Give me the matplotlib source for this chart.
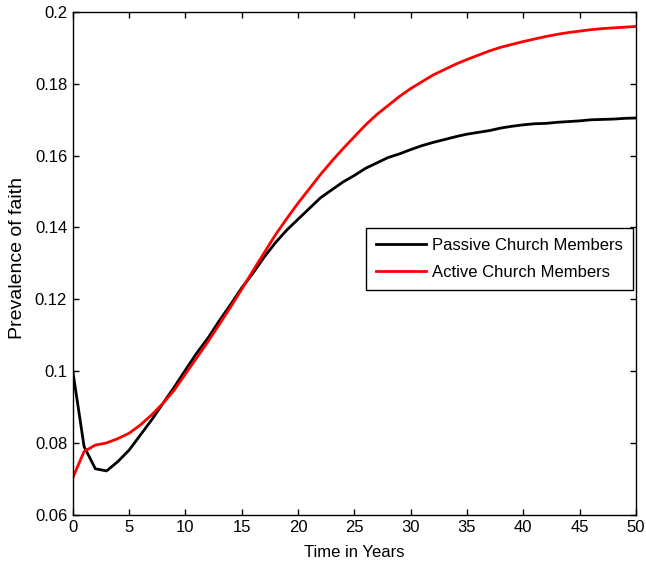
import matplotlib
matplotlib.use("Agg")
import matplotlib.pyplot as plt

plt.rcParams['font.family'] = ['Liberation Sans', 'DejaVu Sans']

years = list(range(0, 51))

passive = [0.1000, 0.0790, 0.0728, 0.0722, 0.0748, 0.0780, 0.0822, 0.0864, 0.0910, 0.0955,
           0.1003, 0.1050, 0.1092, 0.1140, 0.1185, 0.1232, 0.1273, 0.1318, 0.1358, 0.1393,
           0.1423, 0.1453, 0.1483, 0.1505, 0.1527, 0.1545, 0.1565, 0.1580, 0.1595, 0.1605,
           0.1617, 0.1628, 0.1637, 0.1645, 0.1653, 0.1660, 0.1665, 0.1670, 0.1677, 0.1682,
           0.1686, 0.1689, 0.1690, 0.1693, 0.1695, 0.1697, 0.1700, 0.1701, 0.1702, 0.1704,
           0.1705]

active = [0.0703, 0.0776, 0.0794, 0.0800, 0.0812, 0.0827, 0.0850, 0.0878, 0.0910, 0.0947,
          0.0992, 0.1037, 0.1082, 0.1130, 0.1178, 0.1228, 0.1280, 0.1330, 0.1380, 0.1425,
          0.1468, 0.1508, 0.1548, 0.1585, 0.1620, 0.1653, 0.1686, 0.1715, 0.1740, 0.1765,
          0.1787, 0.1806, 0.1825, 0.1840, 0.1855, 0.1868, 0.1880, 0.1892, 0.1902, 0.1910,
          0.1918, 0.1925, 0.1932, 0.1938, 0.1943, 0.1947, 0.1951, 0.1954, 0.1956, 0.1958,
          0.1960]

xticks = [0, 5, 10, 15, 20, 25, 30, 35, 40, 45, 50]
yticks = [0.06, 0.08, 0.1, 0.12, 0.14, 0.16, 0.18, 0.2]
ytick_labels = ['0.06', '0.08', '0.1', '0.12', '0.14', '0.16', '0.18', '0.2']

fig = plt.figure(figsize=(6.46, 5.7), dpi=100)
ax = fig.add_axes([0.1127, 0.097, 0.8718, 0.8818])

ax.plot(years, passive, color='black', linewidth=2, label='Passive Church Members')
ax.plot(years, active, color='red', linewidth=2, label='Active Church Members')

ax.set_xlim(0, 50)
ax.set_ylim(0.06, 0.2)
ax.set_xticks(xticks)
ax.set_yticks(yticks)
ax.set_yticklabels(ytick_labels)
ax.tick_params(direction='in', length=4, width=1, top=True, right=True,
               labelsize=12, pad=4)
for s in ax.spines.values():
    s.set_linewidth(1)

ax.set_xlabel('Time in Years', fontsize=12, labelpad=7)
ax.set_ylabel('Prevalence of faith', fontsize=14)
ax.yaxis.set_label_coords(-0.083, 0.51)

leg = ax.legend(loc='upper right', bbox_to_anchor=(0.995, 0.5705), fontsize=12,
                fancybox=False, edgecolor='black', framealpha=1,
                handlelength=3, handletextpad=0.4, borderpad=0.6,
                labelspacing=0.7, borderaxespad=0)
leg.get_frame().set_linewidth(1)

fig.savefig('out.png', dpi=100)
